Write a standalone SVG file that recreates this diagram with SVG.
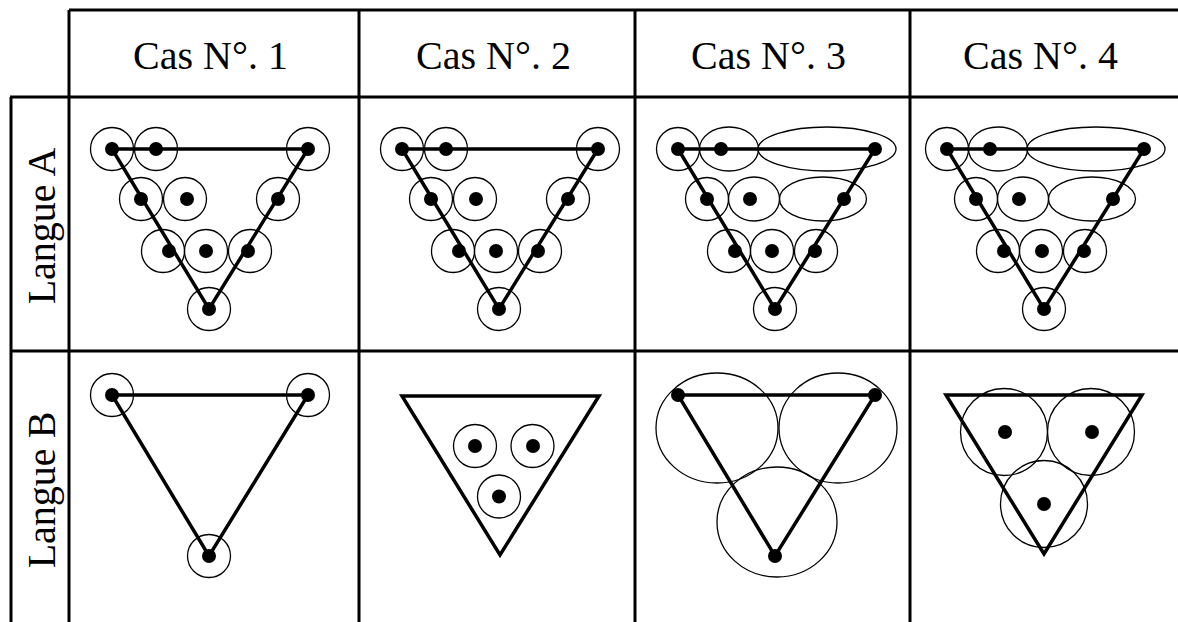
<svg xmlns="http://www.w3.org/2000/svg" width="1178" height="622" viewBox="0 0 1178 622">
<style>
.grid{stroke:#000;stroke-width:3;fill:none}
.tri{fill:none;stroke:#000;stroke-width:3.5;stroke-linejoin:miter}
.ring{fill:none;stroke:#000;stroke-width:1.3}
.dot{fill:#000}
.lbl{font-family:"Liberation Serif","Times New Roman",serif;font-size:40px;fill:#000;text-anchor:middle}
</style>
<rect width="1178" height="622" fill="#fff"/>
<g id="grid">
<line class="grid" x1="69" y1="10" x2="1178" y2="10"/>
<line class="grid" x1="10" y1="97" x2="1178" y2="97"/>
<line class="grid" x1="10" y1="351" x2="1178" y2="351"/>
<line class="grid" x1="11" y1="97" x2="11" y2="622"/>
<line class="grid" x1="69" y1="10" x2="69" y2="622"/>
<line class="grid" x1="359" y1="10" x2="359" y2="622"/>
<line class="grid" x1="635" y1="10" x2="635" y2="622"/>
<line class="grid" x1="910" y1="10" x2="910" y2="622"/>
</g>
<g id="headers">
<text class="lbl" x="210.5" y="69">Cas N°. 1</text>
<text class="lbl" x="493.5" y="69">Cas N°. 2</text>
<text class="lbl" x="768.5" y="69">Cas N°. 3</text>
<text class="lbl" x="1040.5" y="69">Cas N°. 4</text>
<text class="lbl" transform="translate(55,226) rotate(-90)">Langue A</text>
<text class="lbl" transform="translate(55,490) rotate(-90)">Langue B</text>
</g>
<g id="connectors">
<polygon class="tri" points="112,149 308,149 209,309"/>
<polygon class="tri" points="402,149 598,149 499,309"/>
<polygon class="tri" points="678,149 875,149 775,309"/>
<polygon class="tri" points="947,149 1144,149 1044,309"/>
<polygon class="tri" points="112,395 308,395 209,556"/>
<polygon class="tri" points="402,396 599,396 500,555"/>
<polygon class="tri" points="678,395 875,395 775,556"/>
<polygon class="tri" points="946,395 1142,395 1044,554"/>
</g>
<g id="case1-A">
<circle class="ring" cx="112" cy="149" r="21.5"/><circle class="ring" cx="156" cy="149" r="21.5"/><circle class="ring" cx="308" cy="149" r="21.5"/>
<circle class="ring" cx="141" cy="199" r="21.5"/><circle class="ring" cx="185" cy="199" r="21.5"/><circle class="ring" cx="278" cy="199" r="21.5"/>
<circle class="ring" cx="163" cy="251" r="21.5"/><circle class="ring" cx="206" cy="251" r="21.5"/><circle class="ring" cx="250" cy="251" r="21.5"/>
<circle class="ring" cx="209" cy="309" r="21.5"/>
<circle class="dot" cx="112" cy="149" r="7"/><circle class="dot" cx="156" cy="149" r="7"/><circle class="dot" cx="308" cy="149" r="7"/>
<circle class="dot" cx="141" cy="199" r="7"/><circle class="dot" cx="187" cy="199" r="7"/><circle class="dot" cx="278" cy="199" r="7"/>
<circle class="dot" cx="169" cy="251" r="7"/><circle class="dot" cx="206" cy="251" r="7"/><circle class="dot" cx="248" cy="251" r="7"/>
<circle class="dot" cx="209" cy="309" r="7"/>
</g>
<g id="case2-A">
<circle class="ring" cx="402" cy="149" r="21.5"/><circle class="ring" cx="446" cy="149" r="21.5"/><circle class="ring" cx="598" cy="149" r="21.5"/>
<circle class="ring" cx="431" cy="199" r="21.5"/><circle class="ring" cx="475" cy="199" r="21.5"/><circle class="ring" cx="568" cy="199" r="21.5"/>
<circle class="ring" cx="453" cy="251" r="21.5"/><circle class="ring" cx="496" cy="251" r="21.5"/><circle class="ring" cx="540" cy="251" r="21.5"/>
<circle class="ring" cx="499" cy="309" r="21.5"/>
<circle class="dot" cx="402" cy="149" r="7"/><circle class="dot" cx="446" cy="149" r="7"/><circle class="dot" cx="598" cy="149" r="7"/>
<circle class="dot" cx="431" cy="199" r="7"/><circle class="dot" cx="476" cy="199" r="7"/><circle class="dot" cx="568" cy="199" r="7"/>
<circle class="dot" cx="459" cy="251" r="7"/><circle class="dot" cx="496" cy="251" r="7"/><circle class="dot" cx="538" cy="251" r="7"/>
<circle class="dot" cx="499" cy="309" r="7"/>
</g>
<g id="case3-A">
<circle class="ring" cx="678" cy="149" r="21.5"/><ellipse class="ring" cx="729" cy="149" rx="29.5" ry="22"/><ellipse class="ring" cx="827" cy="149" rx="69" ry="22"/>
<circle class="ring" cx="707" cy="199" r="21.5"/><ellipse class="ring" cx="754" cy="199" rx="25.5" ry="22"/><ellipse class="ring" cx="823" cy="199" rx="43.5" ry="22"/>
<circle class="ring" cx="729" cy="251" r="21.5"/><circle class="ring" cx="772" cy="251" r="21.5"/><circle class="ring" cx="816" cy="251" r="21.5"/>
<circle class="ring" cx="775" cy="309" r="21.5"/>
<circle class="dot" cx="678" cy="149" r="7"/><circle class="dot" cx="721" cy="149" r="7"/><circle class="dot" cx="875" cy="149" r="7"/>
<circle class="dot" cx="707" cy="199" r="7"/><circle class="dot" cx="750" cy="199" r="7"/><circle class="dot" cx="844" cy="199" r="7"/>
<circle class="dot" cx="735" cy="251" r="7"/><circle class="dot" cx="772" cy="251" r="7"/><circle class="dot" cx="815" cy="251" r="7"/>
<circle class="dot" cx="775" cy="309" r="7"/>
</g>
<g id="case4-A">
<circle class="ring" cx="947" cy="149" r="21.5"/><ellipse class="ring" cx="998" cy="149" rx="29.5" ry="22"/><ellipse class="ring" cx="1096" cy="149" rx="69" ry="22"/>
<circle class="ring" cx="976" cy="199" r="21.5"/><ellipse class="ring" cx="1023" cy="199" rx="25.5" ry="22"/><ellipse class="ring" cx="1092" cy="199" rx="43.5" ry="22"/>
<circle class="ring" cx="998" cy="251" r="21.5"/><circle class="ring" cx="1041" cy="251" r="21.5"/><circle class="ring" cx="1085" cy="251" r="21.5"/>
<circle class="ring" cx="1044" cy="309" r="21.5"/>
<circle class="dot" cx="947" cy="149" r="7"/><circle class="dot" cx="990" cy="149" r="7"/><circle class="dot" cx="1144" cy="149" r="7"/>
<circle class="dot" cx="976" cy="199" r="7"/><circle class="dot" cx="1019" cy="199" r="7"/><circle class="dot" cx="1113" cy="199" r="7"/>
<circle class="dot" cx="1004" cy="251" r="7"/><circle class="dot" cx="1042" cy="251" r="7"/><circle class="dot" cx="1084" cy="251" r="7"/>
<circle class="dot" cx="1044" cy="309" r="7"/>
</g>
<g id="case1-B">
<circle class="ring" cx="112" cy="395" r="21.5"/><circle class="ring" cx="308" cy="395" r="21.5"/><circle class="ring" cx="209" cy="556" r="21.5"/>
<circle class="dot" cx="112" cy="395" r="7"/><circle class="dot" cx="308" cy="395" r="7"/><circle class="dot" cx="209" cy="556" r="7"/>
</g>
<g id="case2-B">
<circle class="ring" cx="475" cy="446" r="21.5"/><circle class="ring" cx="532.5" cy="446" r="21.5"/><circle class="ring" cx="499" cy="496.5" r="21.5"/>
<circle class="dot" cx="475" cy="446" r="7"/><circle class="dot" cx="533" cy="446" r="7"/><circle class="dot" cx="499" cy="496.5" r="7"/>
</g>
<g id="case3-B">
<ellipse class="ring" cx="717" cy="428" rx="61" ry="55"/><ellipse class="ring" cx="838" cy="428" rx="59" ry="55"/><ellipse class="ring" cx="777" cy="522" rx="60" ry="55"/>
<circle class="dot" cx="678" cy="395" r="7"/><circle class="dot" cx="875" cy="395" r="7"/><circle class="dot" cx="775" cy="556" r="7"/>
</g>
<g id="case4-B">
<circle class="ring" cx="1004" cy="432" r="43.5"/><circle class="ring" cx="1091" cy="432" r="43.5"/><circle class="ring" cx="1044" cy="504" r="43.5"/>
<circle class="dot" cx="1005" cy="432" r="7"/><circle class="dot" cx="1092" cy="432" r="7"/><circle class="dot" cx="1044" cy="504" r="7"/>
</g>
</svg>
